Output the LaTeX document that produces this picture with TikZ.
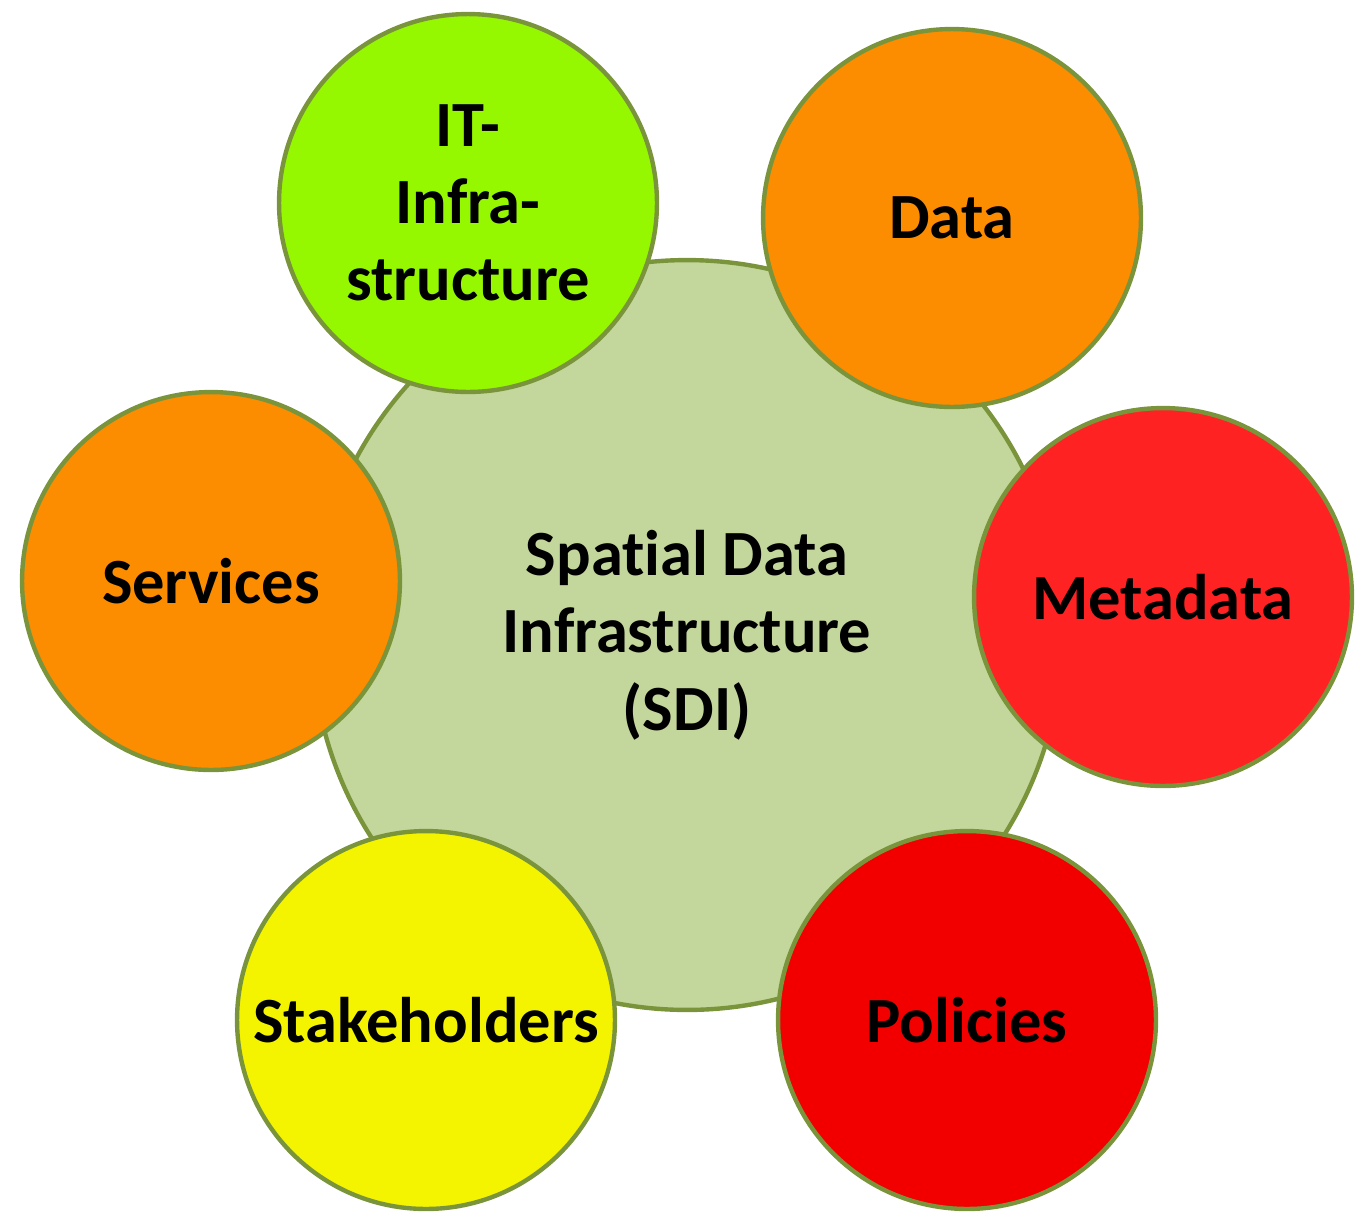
\documentclass[tikz,border=0pt]{standalone}
\usepackage{fontspec}
\setmainfont{Carlito}[Ligatures=NoCommon]
\usepackage{tikz}
\usetikzlibrary{positioning}
\definecolor{olivebd}{RGB}{122,148,60}
\definecolor{sdifill}{RGB}{195,214,155}
\definecolor{itgreen}{RGB}{150,248,0}
\definecolor{orng}{RGB}{252,140,0}
\definecolor{metared}{RGB}{255,34,34}
\definecolor{polred}{RGB}{242,0,0}
\definecolor{yell}{RGB}{244,244,0}
\tikzstyle{hub}=[%
      circle, draw=olivebd, line width=2.5pt, fill=sdifill,
      minimum size=15cm, inner sep=0pt, align=center,
      font=\fontsize{36.7}{44}\selectfont\bfseries
]
\tikzstyle{sat}=[%
      circle, draw=olivebd, line width=2.5pt,
      minimum size=7.56cm, inner sep=0pt, align=center,
      font=\fontsize{36.7}{44}\selectfont\bfseries
]

\begin{document}
\begin{tikzpicture}[x=0.02cm, y=-0.02cm]
    \useasboundingbox (0,0) rectangle (1365,1218);
    \node[hub]                  (sdi)   at (687,635)  {Spatial Data\\Infrastructure\\(SDI)};
    \node[sat, fill=itgreen]    (it)    at (468,203)  {IT-\\Infra-\\structure};
    \node[sat, fill=orng]       (data)  at (952,218)  {Data};
    \node[sat, fill=metared]    (meta)  at (1163,597) {Metadata};
    \node[sat, fill=polred]     (pol)   at (967,1020) {Policies};
    \node[sat, fill=yell]       (stake) at (426,1020) {Stakeholders};
    \node[sat, fill=orng]       (serv)  at (211,581)  {Services};
\end{tikzpicture}
\end{document}
